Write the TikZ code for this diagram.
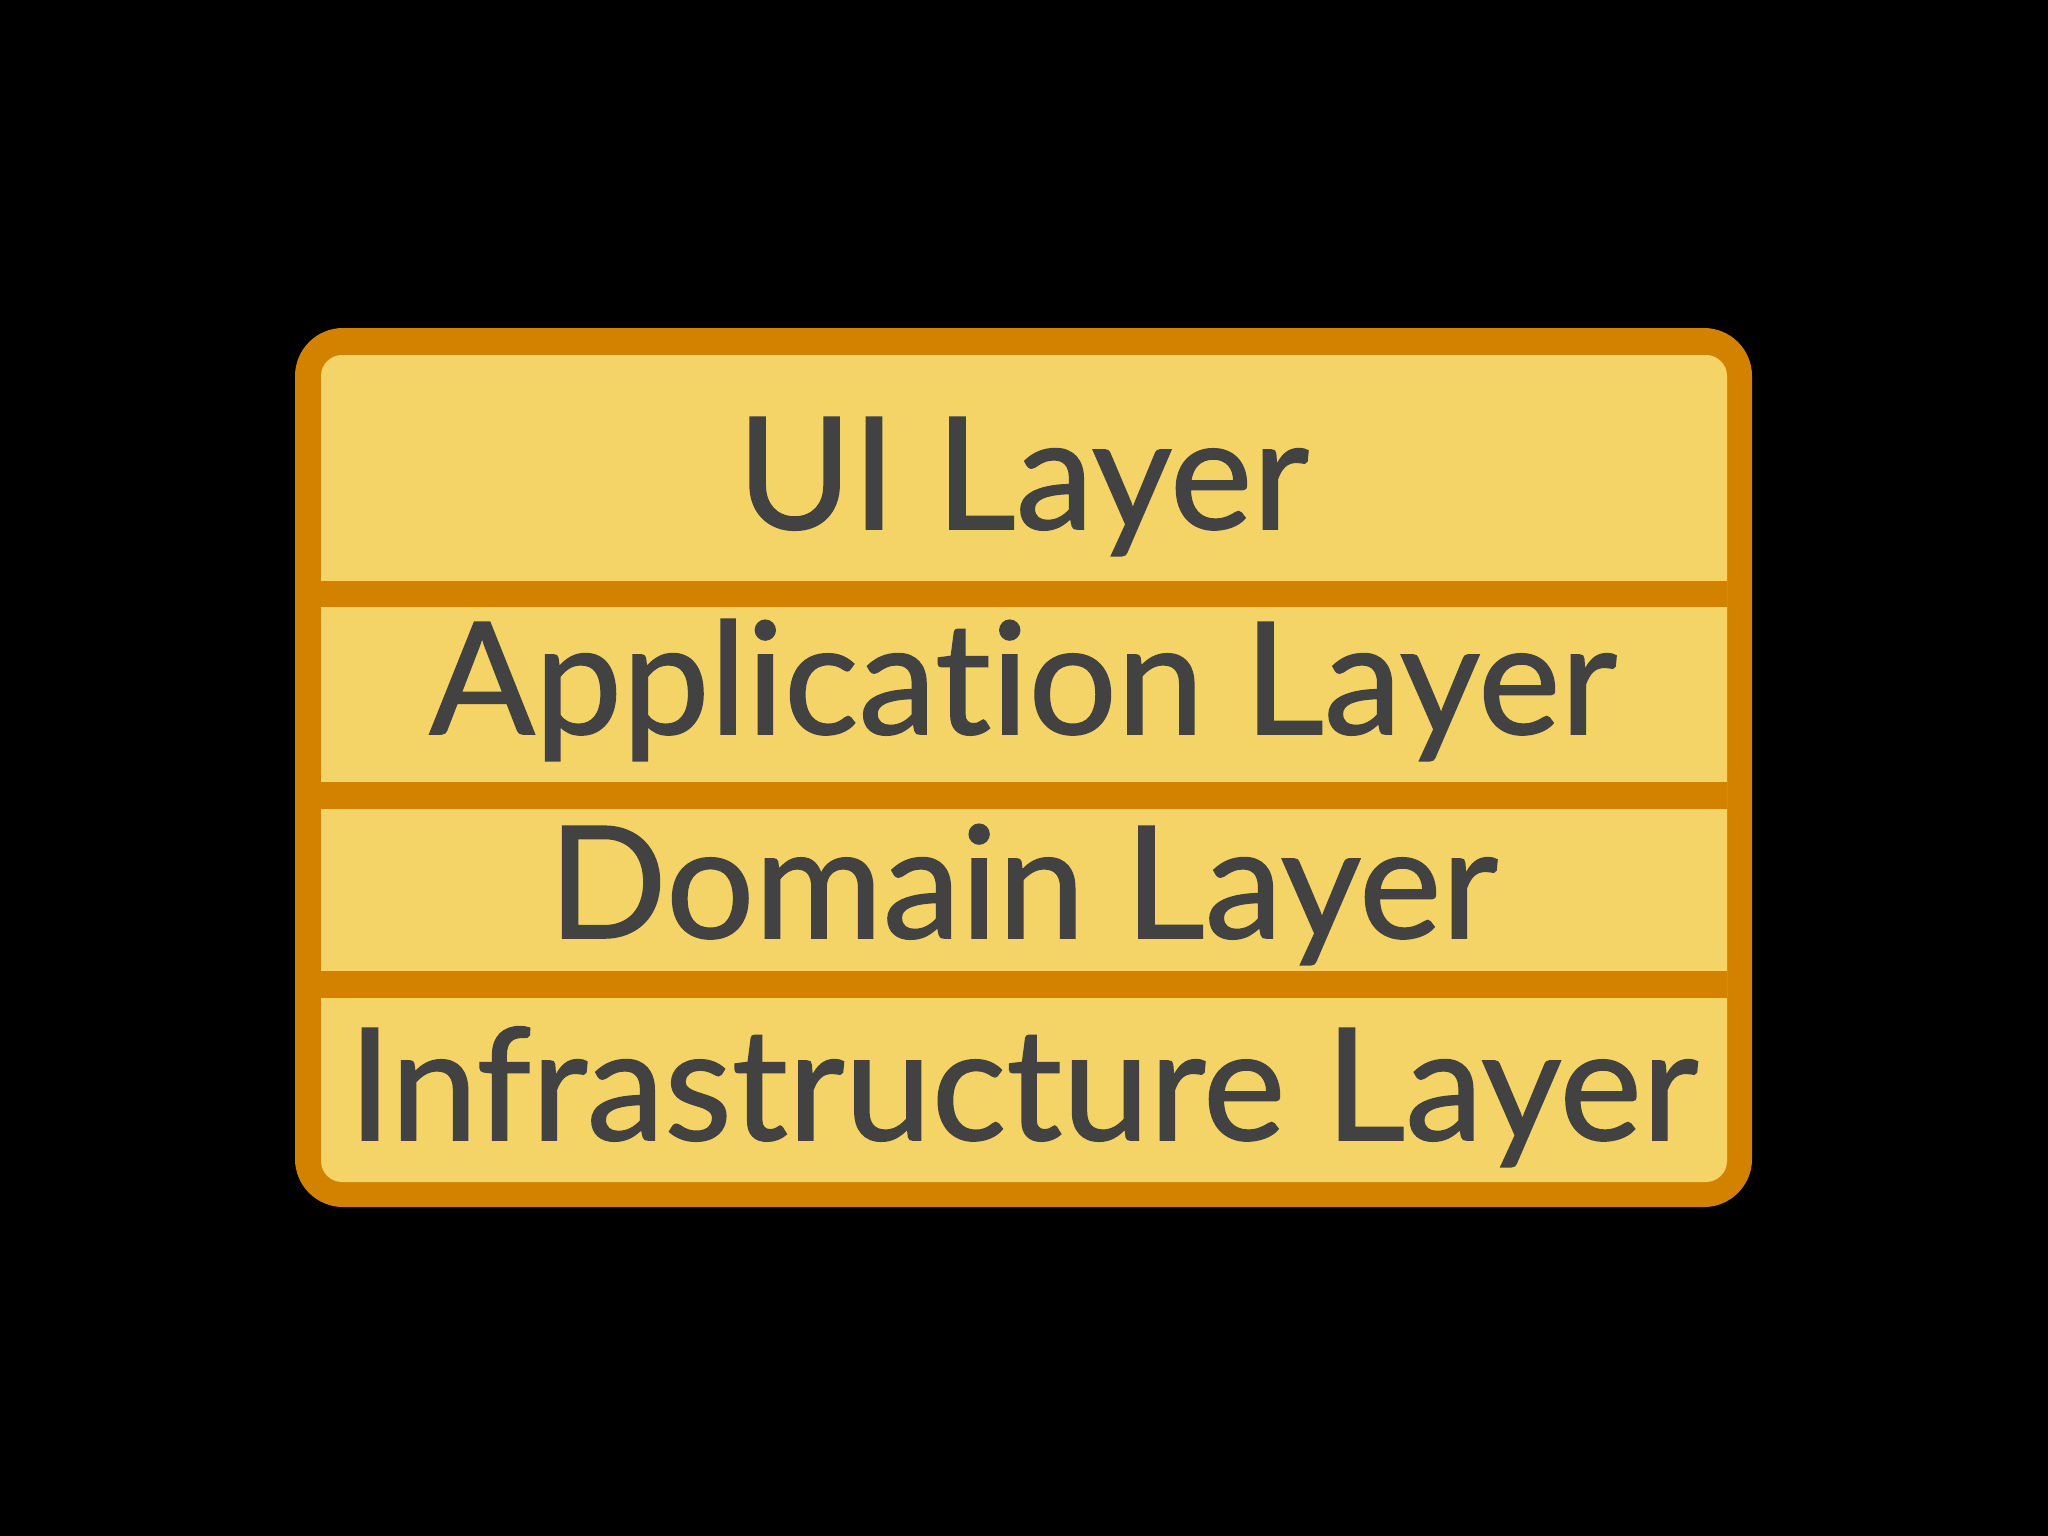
\documentclass[tikz,border=0pt]{standalone}
\usepackage{fontspec}
\setmainfont{Lato}[Ligatures=NoCommon, FakeBold=1]
\usepackage{tikz}
\usetikzlibrary{positioning}

\definecolor{layerfill}{HTML}{F4D466}
\definecolor{layerrim}{HTML}{D38200}
\definecolor{layertext}{HTML}{424242}

\begin{document}
\begin{tikzpicture}[x=1pt,y=-1pt,
    layer/.style={font=\fontsize{156}{160}\selectfont, text=layertext, anchor=base, inner sep=0pt}]
    % Background
    \fill[black] (0,0) rectangle (2048,1536);

    % Frame and paper
    \fill[layerrim, rounded corners=48pt] (295,328) rectangle (1752,1207);
    \fill[layerfill, rounded corners=21pt] (321,355) rectangle (1727,1182);

    % Separators between the layers
    \fill[layerrim] (321,581) rectangle (1727,607);
    \fill[layerrim] (321,782) rectangle (1727,809);
    \fill[layerrim] (321,971) rectangle (1727,998);

    % Layer names
    \node[layer] (ui)    at (1023,529)  {UI Layer};
    \node[layer] (app)   at (1023,734)  {Application Layer};
    \node[layer] (dom)   at (1023,938)  {Domain Layer};
    \node[layer] (infra) at (1023,1140) {Infrastructure Layer};

\end{tikzpicture}
\end{document}
